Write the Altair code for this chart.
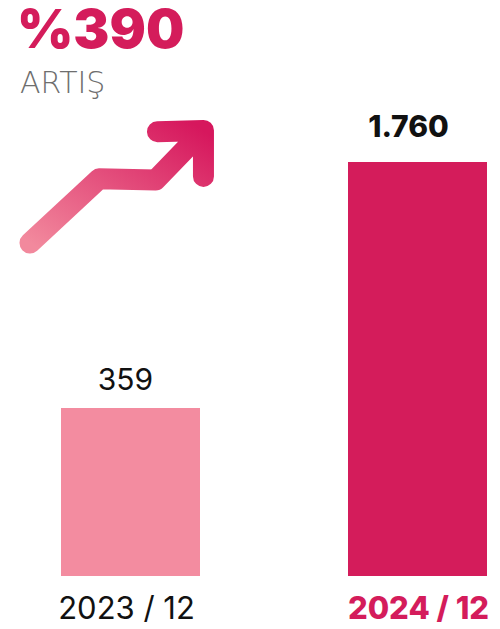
import altair as alt
import pandas as pd

# ---- data ----
periods = ["2023 / 12", "2024 / 12"]
values = [359, 1760]
value_labels = ["359", "1.760"]
headline = ["%390"]
subhead = ["ARTIŞ"]

# decorative arrow (unit box coordinates, drawn in order)
arrow_x = [0.0, 0.39, 0.71, 0.98, 0.72, 0.98, 0.98]
arrow_y = [0.0, 0.53, 0.52, 0.93, 0.92, 0.93, 0.55]
arrow_order = [0, 1, 2, 3, 4, 5, 6]

PINK = "#d41c5b"
LIGHT = "#f38ca0"

bars_df = pd.DataFrame({"period": periods, "value": values, "label": value_labels})
arrow_df = pd.DataFrame({"ax": arrow_x, "ay": arrow_y, "o": arrow_order})

W, H = 484, 621
BASE = 568

xscale = alt.Scale(type="band", domain=periods, range=[53, 479], paddingInner=0.5157, paddingOuter=0)
yscale = alt.Scale(domain=[-598, 2637], range=[BASE, 0], zero=False, nice=False)

base = alt.Chart(bars_df)
X = alt.X("period:N", scale=xscale, axis=None)
Y = alt.Y("value:Q", scale=yscale, axis=None, stack=None)

bars = base.mark_bar().encode(
    x=X,
    y=Y,
    y2=alt.value(BASE),
    color=alt.Color("period:N", scale=alt.Scale(domain=periods, range=[LIGHT, PINK]), legend=None),
)

lbl_old = base.transform_filter(alt.datum.period == periods[0]).mark_text(
    font="Inter", fontSize=30, fontWeight=400, color="#111111", baseline="alphabetic", dy=-18, dx=-5
).encode(x=X, y=Y, text="label:N")

lbl_new = base.transform_filter(alt.datum.period == periods[1]).mark_text(
    font="Inter", fontSize=30, fontWeight=800, color="#111111", baseline="alphabetic", dy=-25, dx=-9
).encode(x=X, y=Y, text="label:N")

cat_old = base.transform_filter(alt.datum.period == periods[0]).mark_text(
    font="Inter", fontSize=31, fontWeight=400, color="#111111", baseline="alphabetic", dx=-4
).encode(x=X, y=alt.value(611), text="period:N")

cat_new = base.transform_filter(alt.datum.period == periods[1]).mark_text(
    font="Inter", fontSize=31, fontWeight=800, color=PINK, baseline="alphabetic", dx=1
).encode(x=X, y=alt.value(611), text="period:N")

grad = alt.LinearGradient(
    gradient="linear",
    stops=[alt.GradientStop(color="#f2899d", offset=0), alt.GradientStop(color="#d6175d", offset=1)],
    x1=0, x2=1, y1=1, y2=0,
)
arrow = alt.Chart(arrow_df).mark_line(
    stroke=grad, strokeWidth=21, strokeCap="round", strokeJoin="round"
).encode(
    x=alt.X("ax:Q", scale=alt.Scale(domain=[0, 1], range=[22, 199]), axis=None),
    y=alt.Y("ay:Q", scale=alt.Scale(domain=[0, 1], range=[235, 114]), axis=None),
    order="o:Q",
)

head = alt.Chart(pd.DataFrame({"t": headline})).mark_text(
    font="Inter", fontSize=54, fontWeight=900, color=PINK, align="left", baseline="alphabetic"
).encode(x=alt.value(9), y=alt.value(40), text="t:N")

sub = alt.Chart(pd.DataFrame({"t": subhead})).mark_text(
    font="DejaVu Sans", fontSize=30, fontWeight=300, color="#6e6e6e", align="left", baseline="alphabetic"
).encode(x=alt.value(12), y=alt.value(85), text="t:N")

chart = alt.layer(bars, lbl_old, lbl_new, cat_old, cat_new, arrow, head, sub).resolve_scale(
    x="independent", y="independent"
).properties(
    width=W, height=H, autosize=alt.AutoSizeParams(type="none"), padding=0
).configure_view(stroke=None)

chart.save("out.html", embed_options={"renderer": "svg", "actions": False})
